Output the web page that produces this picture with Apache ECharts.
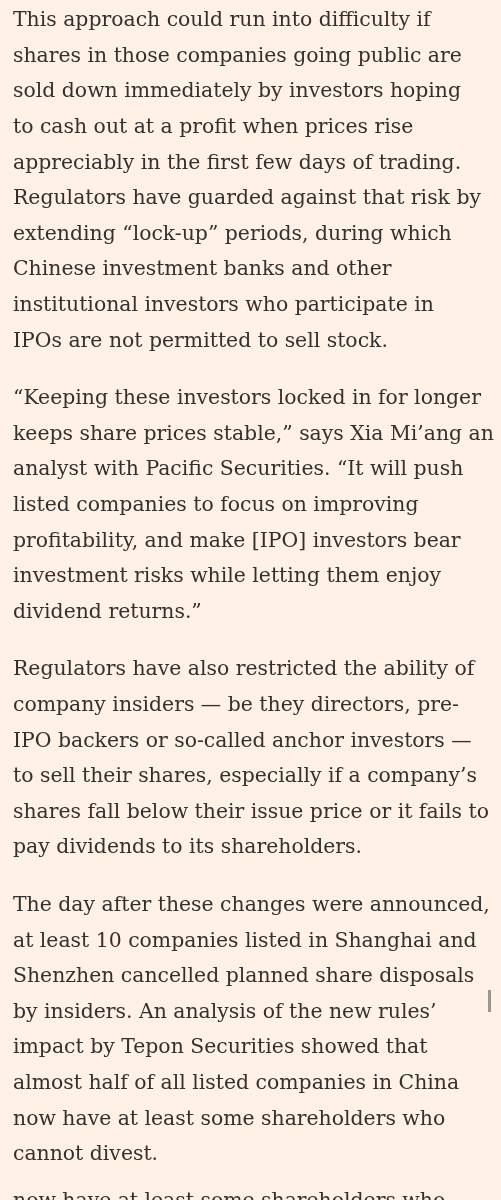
<!DOCTYPE html>
<html><head><meta charset="utf-8">
<script src="https://cdn.jsdelivr.net/npm/echarts@6/dist/echarts.min.js"></script>
<style>html,body{margin:0;padding:0;background:#fff1e5;}#c{width:501px;height:1200px;}</style>
</head><body><div id="c"></div>
<script>
const para1 = [
"This approach could run into difficulty if",
"shares in those companies going public are",
"sold down immediately by investors hoping",
"to cash out at a profit when prices rise",
"appreciably in the first few days of trading.",
"Regulators have guarded against that risk by",
"extending \u201clock-up\u201d periods, during which",
"Chinese investment banks and other",
"institutional investors who participate in",
"IPOs are not permitted to sell stock."];
const para2 = [
"\u201cKeeping these investors locked in for longer",
"keeps share prices stable,\u201d says Xia Mi\u2019ang an",
"analyst with Pacific Securities. \u201cIt will push",
"listed companies to focus on improving",
"profitability, and make [IPO] investors bear",
"investment risks while letting them enjoy",
"dividend returns.\u201d"];
const para3 = [
"Regulators have also restricted the ability of",
"company insiders \u2014 be they directors, pre-",
"IPO backers or so-called anchor investors \u2014",
"to sell their shares, especially if a company\u2019s",
"shares fall below their issue price or it fails to",
"pay dividends to its shareholders."];
const para4 = [
"The day after these changes were announced,",
"at least 10 companies listed in Shanghai and",
"Shenzhen cancelled planned share disposals",
"by insiders. An analysis of the new rules\u2019",
"impact by Tepon Securities showed that",
"almost half of all listed companies in China",
"now have at least some shareholders who",
"cannot divest."];
const trailing = "now have at least some shareholders who";
const paragraphs = [para1, para2, para3, para4];
const chart = echarts.init(document.getElementById('c'), null, {renderer:'canvas'});
const els = [];
const font = '20.4px "DejaVu Serif"';
let y = 25;
paragraphs.forEach(p => {
  p.forEach(line => {
    els.push({type:'text', left:13, top:y-14, style:{text:line, fill:'#33302e', font:font}});
    y += 35.6;
  });
  y += 22;
});
els.push({type:'text', left:13, top:1192, style:{text:trailing, fill:'#33302e', font:font}});
els.push({type:'rect', left:488, top:990, shape:{width:3,height:22}, style:{fill:'#9c9690'}});
chart.setOption({backgroundColor:'#fff1e5', graphic:els});
</script></body></html>
